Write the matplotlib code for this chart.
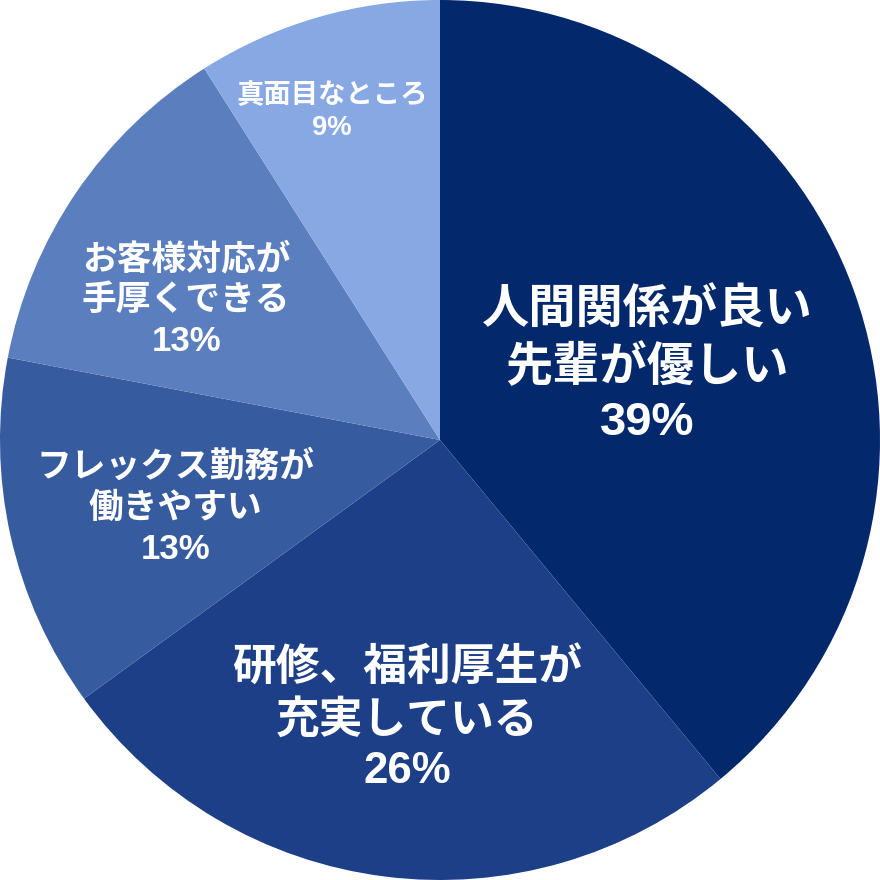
import matplotlib.pyplot as plt

plt.rcParams['font.family'] = ['Liberation Sans', 'Noto Sans CJK JP', 'DejaVu Sans']

# data
labels = ['人間関係が良い\n先輩が優しい', '研修、福利厚生が\n充実している', 'フレックス勤務が\n働きやすい',
          'お客様対応が\n手厚くできる', '真面目なところ']
values = [39, 26, 13, 13, 9]
colors = ['#03296c', '#1d3f87', '#365b9e', '#5b7ebf', '#87a8e3']

# label placement (axes data coords) and sizes
label_pos = [(0.471, 0.166), (-0.075, -0.636), (-0.602, -0.155), (-0.577, 0.318), (-0.245, 0.745)]
label_size = [34, 31.5, 25, 25, 19.7]

fig = plt.figure(figsize=(8.8, 8.8), dpi=100)
ax = fig.add_axes([0, 0, 1, 1])
ax.pie(values, colors=colors, startangle=90, counterclock=False, radius=1,
       wedgeprops=dict(linewidth=0))
ax.set_xlim(-1, 1)
ax.set_ylim(-1, 1)
ax.set_aspect('equal')
ax.axis('off')

for lab, v, (x, y), s in zip(labels, values, label_pos, label_size):
    ax.text(x, y, f'{lab}\n{v}%', ha='center', va='center', color='white',
            fontsize=s, fontweight='bold', linespacing=1.31)

fig.savefig('out.png', dpi=100)
